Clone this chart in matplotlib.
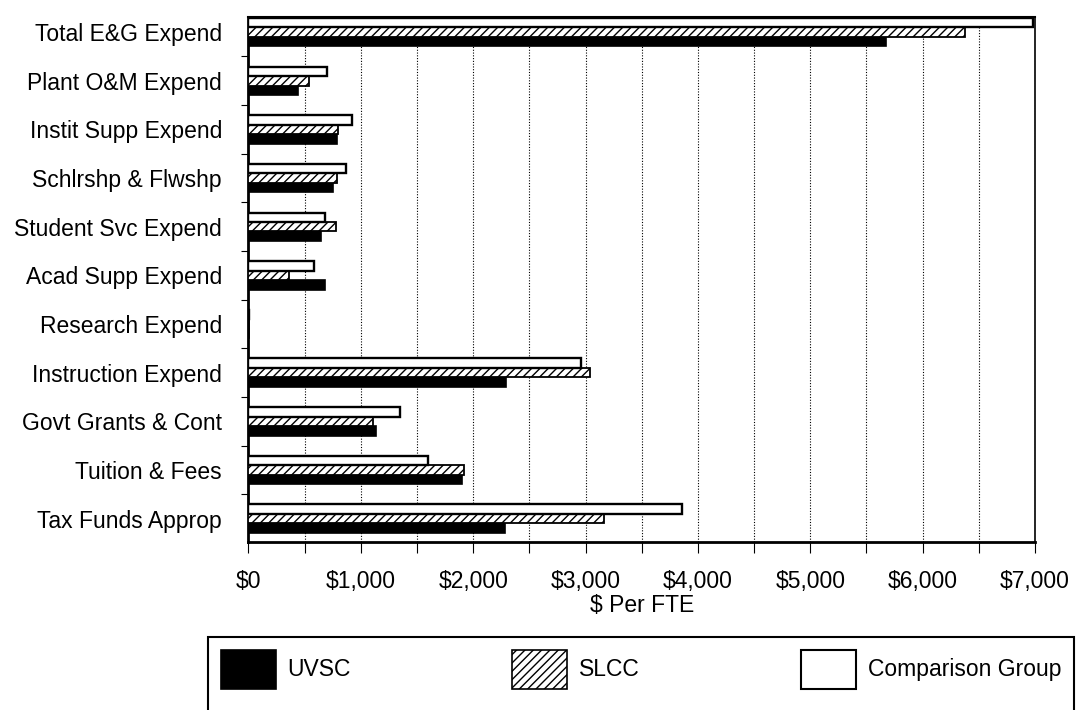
import matplotlib
matplotlib.use("Agg")
import matplotlib.pyplot as plt
import numpy as np
from matplotlib.patches import Patch, Rectangle
from matplotlib.ticker import FuncFormatter, MultipleLocator

plt.rcParams["font.family"] = ["Liberation Sans", "DejaVu Sans"]
plt.rcParams["hatch.linewidth"] = 1.0

# categories listed bottom -> top
categories = [
    "Tax Funds Approp", "Tuition & Fees", "Govt Grants & Cont", "Instruction Expend",
    "Research Expend", "Acad Supp Expend", "Student Svc Expend", "Schlrshp & Flwshp",
    "Instit Supp Expend", "Plant O&M Expend", "Total E&G Expend",
]
uvsc = [2285, 1900, 1135, 2290, 5, 685, 650, 755, 790, 445, 5670]
slcc = [3160, 1915, 1110, 3040, 5, 365, 775, 790, 800, 540, 6375]
comparison = [3855, 1595, 1350, 2960, 5, 580, 680, 870, 920, 700, 6980]
series_names = ["UVSC", "SLCC", "Comparison Group"]

FS = 16.5
fig = plt.figure(figsize=(10.77, 7.10), dpi=100)
ax = fig.add_axes([0.2307, 0.2366, 0.7303, 0.7394])

y = np.arange(len(categories))
h = 0.195
ax.barh(y - h, uvsc, height=h, color="black", edgecolor="black", linewidth=1.2, zorder=3)
ax.barh(y, slcc, height=h, color="white", edgecolor="black", hatch="////",
        linewidth=1.3, zorder=3)
ax.barh(y + h, comparison, height=h, color="white", edgecolor="black", linewidth=1.7, zorder=3)

ax.set_xlim(0, 7000)
ax.set_ylim(-0.48, 10.31)
ax.xaxis.set_major_locator(MultipleLocator(1000))
ax.xaxis.set_minor_locator(MultipleLocator(500))
ax.xaxis.set_major_formatter(FuncFormatter(lambda v, p: f"${v:,.0f}"))
ax.grid(axis="x", which="both", color="black", linestyle=(0, (1, 1.5)), linewidth=0.8, zorder=1)

ax.set_yticks(y)
ax.set_yticklabels(categories)
ax.set_yticks(y[:-1] + 0.5, minor=True)
ax.tick_params(axis="y", which="major", length=0, pad=19, labelsize=FS)
ax.tick_params(axis="y", which="minor", length=5, width=0.8, direction="out")
ax.tick_params(axis="x", which="both", length=8, width=0.8, direction="out", pad=12, labelsize=FS)

ax.set_xlabel("$ Per FTE", fontsize=FS, labelpad=1)

ax.spines["left"].set_linewidth(2.0)
ax.spines["bottom"].set_linewidth(2.0)
ax.spines["top"].set_linewidth(1.5)
ax.spines["right"].set_linewidth(1.2)

handles = [
    Patch(facecolor="black", edgecolor="black", linewidth=1.2),
    Patch(facecolor="white", edgecolor="black", hatch="////", linewidth=1.2),
    Patch(facecolor="white", edgecolor="black", linewidth=1.5),
]
fig.legend(handles, series_names, loc="upper left", ncol=3, mode="expand",
           bbox_to_anchor=(0.1931, -0.05, 0.8041, 0.1528), borderaxespad=0,
           fontsize=FS, handlelength=2.4, handleheight=2.25, handletextpad=0.5,
           borderpad=0.55, frameon=False)
# legend box runs off the bottom of the page in the original
fig.patches.append(Rectangle((0.1931, -0.05), 0.8041, 0.1528, transform=fig.transFigure,
                             fill=False, edgecolor="black", linewidth=1.5))

fig.savefig("out.png", dpi=100)
